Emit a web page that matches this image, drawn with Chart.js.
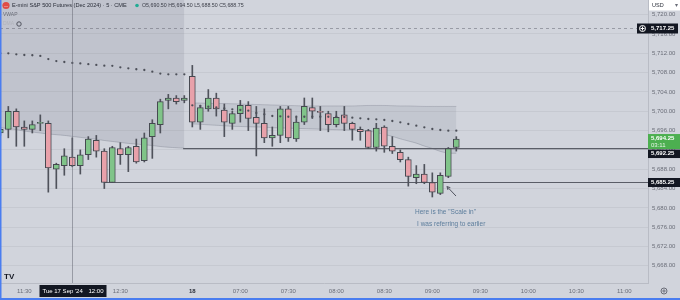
<!DOCTYPE html>
<html>
<head>
<meta charset="utf-8">
<script src="https://cdn.jsdelivr.net/npm/chart.js@4.4.1/dist/chart.umd.min.js"></script>
<style>
  body { margin: 0; background: #d1d4dc; }
  #wrap { width: 680px; height: 300px; position: relative; }
</style>
</head>
<body>
<div id="wrap"><canvas id="chartJSContainer"></canvas></div>
<script>
  // ES 5 min candles, idx 0 = 17 Sep 11:15 ... idx 23 = 13:10, idx 24 = 18 Sep 06:30
  var times = ['11:15','11:20','11:25','11:30','11:35','11:40','11:45','11:50','11:55','12:00',
    '12:05','12:10','12:15','12:20','12:25','12:30','12:35','12:40','12:45','12:50','12:55','13:00','13:05','13:10',
    '06:30','06:35','06:40','06:45','06:50','06:55','07:00','07:05','07:10','07:15','07:20','07:25',
    '07:30','07:35','07:40','07:45','07:50','07:55','08:00','08:05','08:10','08:15','08:20','08:25',
    '08:30','08:35','08:40','08:45','08:50','08:55','09:00','09:05','09:10','09:15']
  var opens = [5695.5,5696.25,5700,5696.75,5696.25,5697.5,5697.5,5688,5688.75,5690.5,
    5688.75,5691,5694,5691.75,5685.25,5692.25,5691,5692.75,5689.75,5694.75,5697.25,5702.25,5702.75,5702.25,
    5707.25,5697.75,5700.5,5702.75,5700.25,5697.5,5699.5,5701.25,5698.75,5697.5,5694.5,5695,
    5700.5,5694.25,5697.75,5700.75,5700,5699.5,5697.25,5699.25,5697.5,5696.25,5696,5692.5,
    5696.75,5692.75,5691.5,5690,5686.25,5687,5685.25,5683,5686.5,5692.5]
  var highs = [5696.5,5701,5700.5,5698,5698,5699.25,5698,5689.25,5692.25,5694.5,
    5692,5694.75,5695,5692.25,5692.75,5693.5,5692.75,5694.25,5695.5,5698.25,5702.5,5703.5,5703.25,5703.25,
    5709.5,5701.25,5704.5,5703.75,5701.5,5700,5702.25,5702,5701,5700.5,5696.75,5701,
    5701,5698.75,5702.75,5702.75,5701,5700,5700,5701,5697.75,5696.75,5696.25,5697.5,
    5697,5694.75,5692,5690.5,5688.75,5689,5687.25,5687.25,5692.5,5694.75]
  var lows = [5695,5694.5,5692.75,5692.75,5695.5,5696,5683.25,5684,5686.75,5688.5,
    5687,5690,5690.5,5684,5685.25,5689,5687.5,5689.25,5689.5,5690.25,5695.5,5700.5,5701.5,5701.75,
    5696.75,5696.25,5700,5699,5694.75,5696.25,5697.75,5696,5690.75,5693.5,5692.75,5693.5,
    5693.75,5693.75,5697.25,5698.5,5696,5695.75,5696.75,5696,5694,5694,5692.25,5691.75,
    5691.5,5691.25,5689.5,5684.5,5685,5685,5682.25,5682.75,5686.25,5691.75]
  var closes = [5696.25,5700,5696.75,5696.25,5697.25,5697.5,5688.25,5689,5690.75,5688.75,
    5691,5694.25,5691.75,5685.25,5692.5,5691,5692.5,5689.5,5694.5,5697.5,5702,5702.75,5702,5702.75,
    5697.75,5700.75,5702.75,5700.5,5697.75,5699.5,5701.25,5698.5,5697.5,5694.5,5695,5700.5,
    5694.5,5697.75,5701,5700,5699.75,5697.25,5698.75,5697.5,5696.25,5695.75,5692.5,5696.5,
    5692.75,5691.75,5690,5686.5,5687,5685.25,5683.25,5686.75,5692.25,5694.25]

  // VWAP, session 17 (idx 0-23) and session 18 (idx 24-57)
  var vwap17 = [5712,5712,5711.8,5711.65,5711.6,5711.45,5710.8,5710.4,5710.2,5710,
    5709.9,5709.75,5709.6,5709.45,5709.4,5709.1,5708.9,5708.7,5708.55,5708.2,5707.8,5707.65,5707.65,5707.65]
  var vwap18 = [5701.23,5701.09,5700.94,5700.78,5700.57,5700.41,5700.26,5700.12,5699.64,5699.37,
    5699.02,5698.96,5698.87,5698.87,5698.87,5698.87,5698.87,5698.87,5698.87,5698.81,5698.67,5698.54,
    5698.4,5698.34,5698.19,5697.99,5697.71,5697.36,5697.01,5696.68,5696.33,5696.12,5695.98,5695.98]
  // band edges
  var band17Low = [5696.6,5696.4,5696.2,5695.9,5695.7,5695.5,5695.3,5695.15,5695,5694.8,
    5694.6,5694.4,5694.2,5693.95,5693.75,5693.55,5693.35,5693.2,5693.05,5692.9,5692.7,5692.55,5692.45,5692.35]
  var band18High = [5701.7,5701.7,5701.65,5701.6,5701.6,5701.55,5701.5,5701.45,5701.4,5701.35,
    5701.3,5701.25,5701.2,5701.15,5701.1,5701.1,5701.1,5701.1,5701.1,5701.1,5701.1,5701.15,
    5701.2,5701.2,5701.2,5701.15,5701.1,5701.1,5701.05,5701,5701,5701,5701,5701]
  var band18Low = [5697.4,5697.3,5697.2,5697.1,5697,5696.9,5696.85,5696.8,5696.75,5696.7,
    5696.6,5696.55,5696.5,5696.45,5696.4,5696.35,5696.3,5696.25,5696.2,5696.15,5696.1,5696,
    5695.9,5695.6,5695.2,5694.8,5694.3,5693.85,5693.4,5692.8,5692.3,5691.7,5691.35,5691.3]

  // horizontal levels (price, start idx)
  var levelPrices = [5692.25, 5685.25]
  var levelStarts = [22.85, 13]

  var yTicks = [5668,5672,5676,5680,5684,5688,5692,5696,5700,5704,5708,5712,5716,5720]
  var xTickPos = [3,15,24,30,36,42,48,54,60,66,72,78]
  var xTickText = ['11:30','12:30','18','07:00','07:30','08:00','08:30','09:00','09:30','10:00','10:30','11:00']

  var crossIdx = 9
  var crossPrice = 5717.25
  var noteLines = ['Here is the "Scale in"', 'I was referring to earlier']
  var noteAt = [51.84, 5679.1, 5676.7]
  var arrowFrom = [56.96, 5682.45]
  var arrowTo = [55.84, 5684.4]

  var green = '#80c489', red = '#e8a1aa', edge = '#454850', wickCol = '#4f525b'
  var fnt = 'Liberation Sans'
  Chart.defaults.font.family = fnt

  var bodyColors = closes.map(function(c, i){ return c >= opens[i] ? green : red })

  function seg(arr, start) {
    return arr.map(function(v, i){ return {x: start + i, y: v} })
  }
  function noPad(s) {
    s.paddingTop = 0; s.paddingBottom = 0; s.paddingLeft = 0; s.paddingRight = 0
  }

  var overlay = {
    id: 'overlay',
    beforeDraw: function(chart) {
      var c = chart.ctx
      c.save()
      c.fillStyle = '#d1d4dc'
      c.fillRect(0, 0, chart.width, chart.height)
      c.restore()
    },
    afterDraw: function(chart) {
      var c = chart.ctx, xs = chart.scales.x, ys = chart.scales.y, a = chart.chartArea
      c.save()
      function ln(x1, y1, x2, y2) { c.beginPath(); c.moveTo(x1, y1); c.lineTo(x2, y2); c.stroke() }
      function txt(s, x, y, size, color, align, weight) {
        c.font = (weight || '') + ' ' + size + 'px "' + fnt + '"'
        c.fillStyle = color
        c.textAlign = align || 'left'
        c.textBaseline = 'middle'
        c.fillText(s, x, y)
      }

      // crosshair
      var cx = Math.round(xs.getPixelForValue(crossIdx)) + 0.5
      var cy = Math.round(ys.getPixelForValue(crossPrice)) + 0.5
      c.strokeStyle = 'rgba(105,108,120,0.55)'
      c.lineWidth = 1
      ln(cx, a.top, cx, a.bottom)
      c.setLineDash([3, 3])
      ln(a.left, cy, a.right, cy)
      c.setLineDash([])

      // note + arrow
      var nx = xs.getPixelForValue(noteAt[0])
      txt(noteLines[0], nx, ys.getPixelForValue(noteAt[1]), 6.5, '#5c7d9c')
      txt(noteLines[1], nx + 2, ys.getPixelForValue(noteAt[2]), 6.5, '#5c7d9c')
      var ax1 = xs.getPixelForValue(arrowFrom[0]), ay1 = ys.getPixelForValue(arrowFrom[1])
      var ax2 = xs.getPixelForValue(arrowTo[0]), ay2 = ys.getPixelForValue(arrowTo[1])
      c.strokeStyle = '#50535e'
      ln(ax1, ay1, ax2, ay2)
      var ang = Math.atan2(ay2 - ay1, ax2 - ax1)
      ln(ax2, ay2, ax2 - 3.5 * Math.cos(ang - 0.5), ay2 - 3.5 * Math.sin(ang - 0.5))
      ln(ax2, ay2, ax2 - 3.5 * Math.cos(ang + 0.5), ay2 - 3.5 * Math.sin(ang + 0.5))

      // right axis tags
      var R = a.right
      c.fillStyle = '#131722'
      c.fillRect(R - 11, cy - 5, 41, 10)
      c.strokeStyle = '#ffffff'
      c.beginPath(); c.arc(R - 5.5, cy, 3, 0, Math.PI * 2); c.stroke()
      ln(R - 7.5, cy, R - 3.5, cy); ln(R - 5.5, cy - 2, R - 5.5, cy + 2)
      txt('5,717.25', R + 3, cy, 6, '#ffffff', 'left', 'bold')

      var last = closes[closes.length - 1]
      var yg = ys.getPixelForValue(last)
      c.fillStyle = '#4caf50'
      c.fillRect(R, yg - 5, 32, 15)
      txt(last.toLocaleString('en-US', {minimumFractionDigits: 2}), R + 3, yg - 1, 6, '#ffffff', 'left', 'bold')
      txt('03:11', R + 3, yg + 6, 6, '#e8f5e9')

      c.fillStyle = '#131722'
      c.fillRect(R, yg + 10.5, 32, 8.5)
      txt('5,692.25', R + 3, yg + 14.8, 6, '#ffffff', 'left', 'bold')
      var yl = ys.getPixelForValue(levelPrices[1])
      c.fillStyle = '#131722'
      c.fillRect(R, yl - 4.5, 32, 9)
      txt('5,685.25', R + 3, yl, 6, '#ffffff', 'left', 'bold')

      // USD box
      c.fillStyle = '#ffffff'
      c.fillRect(R + 1, 0, 31, 10.5)
      txt('USD', R + 4, 5, 5.5, '#2a2e39')
      txt('\u25BE', R + 28, 5, 5.5, '#6a6d78', 'center')

      // date tag on time axis
      c.fillStyle = '#131722'
      c.fillRect(cx - 33, a.bottom + 2, 67, 12)
      txt("Tue 17 Sep '24", cx - 30, a.bottom + 8, 6, '#ffffff')
      txt('12:00', cx + 31, a.bottom + 8, 6, '#ffffff', 'right')

      // header
      c.fillStyle = '#e04c47'
      c.beginPath(); c.arc(6, 5.5, 3.6, 0, Math.PI * 2); c.fill()
      txt('\u2014', 6, 5.5, 4, '#ffffff', 'center')
      txt('E-mini S&P 500 Futures (Dec 2024) \u00B7 5 \u00B7 CME', 12, 5.5, 5.6, '#2a2e39')
      c.fillStyle = '#22ab94'
      c.beginPath(); c.arc(137, 5.5, 1.8, 0, Math.PI * 2); c.fill()
      txt('O5,690.50 H5,694.50 L5,688.50 C5,688.75', 142, 5.5, 5.3, '#3b3e48')
      txt('VWAP', 3, 15, 5, '#6a6d78')
      txt('DMA', 3, 24, 5, '#b0b3bb')
      c.strokeStyle = '#50535e'
      c.beginPath(); c.arc(19, 24, 2.2, 0, Math.PI * 2); c.stroke()

      // logo + gear
      txt('TV', 4, 277, 8, '#131722', 'left', 'bold')
      c.strokeStyle = '#6a6d78'
      c.beginPath(); c.arc(664, 291, 3, 0, Math.PI * 2); c.stroke()
      c.beginPath(); c.arc(664, 291, 1.1, 0, Math.PI * 2); c.stroke()

      // focus border
      c.fillStyle = '#4a7df0'
      c.fillRect(0, 0, 1.5, chart.height)
      c.fillRect(0, chart.height - 2, chart.width, 2)
      c.restore()
    }
  }

  var lineBase = { pointRadius: 0, pointHoverRadius: 0, tension: 0.4 }
  var datasets = [
    Object.assign({
      type: 'line', data: seg(band17Low, 0), fill: 'end',
      backgroundColor: 'rgba(100,104,120,0.15)', borderColor: 'rgba(110,114,128,0.35)',
      borderWidth: 1, order: 9
    }, lineBase),
    Object.assign({
      type: 'line', data: seg(band18High, 24), fill: false,
      borderColor: 'rgba(110,114,128,0.3)', borderWidth: 1, order: 8
    }, lineBase),
    Object.assign({
      type: 'line', data: seg(band18Low, 24), fill: '-1',
      backgroundColor: 'rgba(100,104,120,0.12)', borderColor: 'rgba(110,114,128,0.35)',
      borderWidth: 1, order: 8
    }, lineBase),
    Object.assign({
      type: 'line', data: [{x: levelStarts[0], y: levelPrices[0]}, {x: 81, y: levelPrices[0]}],
      borderColor: '#5a5d67', borderWidth: 1.2, order: 6
    }, lineBase),
    Object.assign({
      type: 'line', data: [{x: levelStarts[1], y: levelPrices[1]}, {x: 81, y: levelPrices[1]}],
      borderColor: '#5a5d67', borderWidth: 1.2, order: 6
    }, lineBase),
    {
      type: 'bar', grouped: false, barThickness: 1, order: 4,
      data: times.map(function(t, i){ return {x: i, y: [lows[i], highs[i]]} }),
      backgroundColor: wickCol
    },
    {
      type: 'bar', grouped: false, barThickness: 6, order: 3, minBarLength: 1,
      data: times.map(function(t, i){ return {x: i, y: [opens[i], closes[i]]} }),
      backgroundColor: bodyColors, borderColor: edge, borderWidth: 1, borderSkipped: false
    },
    {
      type: 'line', data: seg(vwap17, 0).concat(seg(vwap18, 24)), showLine: false,
      pointRadius: 1.15, pointHoverRadius: 0, pointBorderWidth: 0, pointBackgroundColor: '#4d5059', order: 1
    }
  ]

  var ctx = document.getElementById('chartJSContainer').getContext('2d')
  new Chart(ctx, {
    type: 'bar',
    data: { datasets: datasets },
    options: {
      responsive: true,
      maintainAspectRatio: false,
      animation: false,
      devicePixelRatio: 1,
      layout: { padding: 0, autoPadding: false },
      plugins: { legend: { display: false }, tooltip: { enabled: false } },
      events: [],
      scales: {
        x: {
          type: 'linear', min: -0.04, max: 80.96, offset: false,
          grid: { display: false, drawTicks: false },
          border: { display: true, color: '#b9bcc5' },
          afterBuildTicks: function(s) { s.ticks = xTickPos.map(function(v){ return {value: v} }) },
          afterFit: function(s) { s.height = 17; noPad(s) },
          ticks: {
            autoSkip: false, maxRotation: 0, padding: 5,
            color: function(c) { return c.tick && c.tick.value === 24 ? '#2a2e39' : '#6a6d78' },
            font: function(c) { return { size: 6, weight: c.tick && c.tick.value === 24 ? 'bold' : 'normal' } },
            callback: function(v) { return xTickText[xTickPos.indexOf(v)] }
          }
        },
        y: {
          position: 'right', min: 5664.44, max: 5723.04,
          grid: { color: '#c6c9d1', drawTicks: false },
          border: { display: true, color: '#b9bcc5' },
          afterBuildTicks: function(s) { s.ticks = yTicks.map(function(v){ return {value: v} }) },
          afterFit: function(s) { s.width = 32; noPad(s) },
          ticks: {
            padding: 4, color: '#6a6d78', font: { size: 6 },
            callback: function(v) { return v.toLocaleString('en-US', {minimumFractionDigits: 2, maximumFractionDigits: 2}) }
          }
        }
      }
    },
    plugins: [overlay]
  })
</script>
</body>
</html>
